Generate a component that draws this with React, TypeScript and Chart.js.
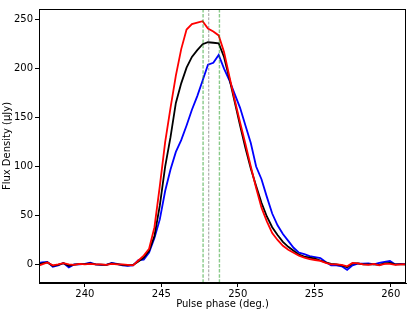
import React, { useEffect, useRef } from "react";
import { Chart, registerables } from "chart.js";

Chart.register(...registerables);

const phase = [
  236.85, 237.2, 237.55, 237.9, 238.25, 238.6, 238.95, 239.3, 239.65, 240.0,
  240.35, 240.7, 241.05, 241.4, 241.75, 242.1, 242.45, 242.8, 243.15, 243.5,
  243.85, 244.2, 244.55, 244.9, 245.25, 245.6, 245.95, 246.3, 246.65, 247.0,
  247.35, 247.7, 248.05, 248.4, 248.75, 249.1, 249.45, 249.8, 250.15, 250.5,
  250.85, 251.2, 251.55, 251.9, 252.25, 252.6, 252.95, 253.3, 253.65, 254.0,
  254.35, 254.7, 255.05, 255.4, 255.75, 256.1, 256.45, 256.8, 257.15, 257.5,
  257.85, 258.2, 258.55, 258.9, 259.25, 259.6, 259.95, 260.3, 260.65, 261.0,
  261.35,
];

const redFlux = [
  -2, 0, 2, -1, 0, 1.3, 0, -0.5, 0.5, 0,
  0.5, 0, 0, -0.5, 0.5, 0, 0, -0.5, -1, 4,
  9, 16, 38, 80, 125, 160, 193, 220, 240, 245.5,
  247, 248.5, 241, 238, 234, 217, 192, 168, 145, 123,
  100, 78, 58, 44, 32, 25, 19, 15, 12, 9,
  7, 5.5, 4.5, 3.5, 1.5, 0, 0, -0.5, -2, 1.5,
  1, 0, -0.5, 0.5, -1, 0.5, 0.5, -0.5, 0, 0,
  0,
];

const blackFlux = [
  -1, 1, 2, -1.5, -0.5, 1.3, -1.5, -0.3, 0.3, 0.3,
  1, 0, -0.3, -0.5, 1, 0.3, -0.5, -1, -0.5, 3,
  7, 14, 29, 60, 100, 130, 165, 185, 201, 212,
  219, 225, 227, 226.5, 226, 212, 190, 166, 142, 119,
  98, 80, 63, 49, 38, 30, 23, 18, 14, 10,
  8, 7, 6, 4, 2, 0.5, 0, -1, -3, 1,
  1, 0, 0, 0, -0.5, 1, 1.5, 0, 0, 0,
  0,
];

const blueFlux = [
  1, 2, 2.5, -2.5, -1, 1.5, -3, 0, 0, 0.5,
  1.7, 0, -0.5, -0.5, 1.5, 0.5, -1, -1.5, -1, 4.5,
  5, 12, 27, 46, 75, 97, 115, 127, 142, 158,
  172, 188, 204, 206, 214, 200, 188, 174, 160, 142,
  124, 100, 87, 69, 52, 40, 31, 24, 17, 12,
  10.5, 8.5, 7.5, 6.5, 2.5, -1, -1, -2, -5.5, -1,
  0.7, 0.7, 1, 0, 1.5, 2.5, 3.5, 0, 0.5, 0,
  0,
];

const greenLines = [247.73, 248.8];
const greyLines = [248.1];

const xTicks = [240, 245, 250, 255, 260];
const yTicks = [0, 50, 100, 150, 200, 250];

const xRange = [237, 261];
const yRange = [-19, 261];

const FONT = { family: "'DejaVu Sans', sans-serif", size: 10 };

const framePlugin = {
  id: "frame",
  afterDatasetsDraw(chart: any) {
    const { ctx, chartArea, scales } = chart;
    ctx.save();
    ctx.beginPath();
    ctx.rect(chartArea.left, chartArea.top, chartArea.right - chartArea.left, chartArea.bottom - chartArea.top);
    ctx.clip();
    const drawV = (v: number, color: string, dash: number[], w: number) => {
      const x = scales.x.getPixelForValue(v);
      ctx.beginPath();
      ctx.setLineDash(dash);
      ctx.strokeStyle = color;
      ctx.lineWidth = w;
      ctx.moveTo(x, chartArea.top);
      ctx.lineTo(x, chartArea.bottom);
      ctx.stroke();
    };
    greenLines.forEach((v) => drawV(v, "rgba(20,150,20,0.5)", [3.5, 1.6], 1.4));
    greyLines.forEach((v) => drawV(v, "rgba(110,110,110,0.75)", [2.8, 1.4], 0.9));
    ctx.restore();
    ctx.save();
    ctx.setLineDash([]);
    ctx.strokeStyle = "#000";
    ctx.lineWidth = 1;
    ctx.strokeRect(
      Math.round(chartArea.left) + 0.5,
      Math.round(chartArea.top) + 0.5,
      Math.round(chartArea.right - chartArea.left) - 1,
      Math.round(chartArea.bottom - chartArea.top) - 1
    );
    ctx.restore();
  },
};

export default function App() {
  const ref = useRef<HTMLCanvasElement | null>(null);

  useEffect(() => {
    if (!ref.current) return;
    const mk = (vals: number[]) => phase.map((p, i) => ({ x: p, y: vals[i] }));
    const chart = new Chart(ref.current, {
      type: "line",
      data: {
        datasets: [
          { label: "red", data: mk(redFlux), borderColor: "#ff0000", borderWidth: 1.8, pointRadius: 0, tension: 0, order: 1 },
          { label: "black", data: mk(blackFlux), borderColor: "#000000", borderWidth: 1.8, pointRadius: 0, tension: 0, order: 2 },
          { label: "blue", data: mk(blueFlux), borderColor: "#0000ff", borderWidth: 1.8, pointRadius: 0, tension: 0, order: 3 },
        ],
      },
      options: {
        animation: false,
        responsive: false,
        devicePixelRatio: 1,
        layout: { padding: { top: 9, right: 9, left: 0, bottom: 0 } },
        plugins: { legend: { display: false }, tooltip: { enabled: false } },
        scales: {
          x: {
            type: "linear",
            min: xRange[0],
            max: xRange[1],
            afterBuildTicks: (s: any) => {
              s.ticks = xTicks.map((v) => ({ value: v }));
            },
            afterFit: (s: any) => {
              s.height = 29;
            },
            grid: { display: true, drawOnChartArea: false, drawTicks: true, tickLength: 4, color: "#000", lineWidth: 1 },
            border: { display: true, color: "#000" },
            ticks: { color: "#000", font: FONT, padding: 1, maxRotation: 0, autoSkip: false },
            title: { display: true, text: "Pulse phase (deg.)", color: "#000", font: FONT, padding: { top: 0, bottom: 2 } },
          },
          y: {
            type: "linear",
            min: yRange[0],
            max: yRange[1],
            afterBuildTicks: (s: any) => {
              s.ticks = yTicks.map((v) => ({ value: v }));
            },
            afterFit: (s: any) => {
              s.width = 39;
            },
            grid: { display: true, drawOnChartArea: false, drawTicks: true, tickLength: 4, color: "#000", lineWidth: 1 },
            border: { display: true, color: "#000" },
            ticks: { color: "#000", font: FONT, padding: 2, autoSkip: false },
            title: { display: true, text: "Flux Density (μJy)", color: "#000", font: FONT, padding: { top: 1, bottom: 0 } },
          },
        },
      },
      plugins: [framePlugin],
    });
    return () => chart.destroy();
  }, []);

  return (
    <div style={{ position: "fixed", left: 0, top: 0, width: 415, height: 312, background: "#fff" }}>
      <canvas ref={ref} width={415} height={312} style={{ width: 415, height: 312, display: "block" }} />
    </div>
  );
}
